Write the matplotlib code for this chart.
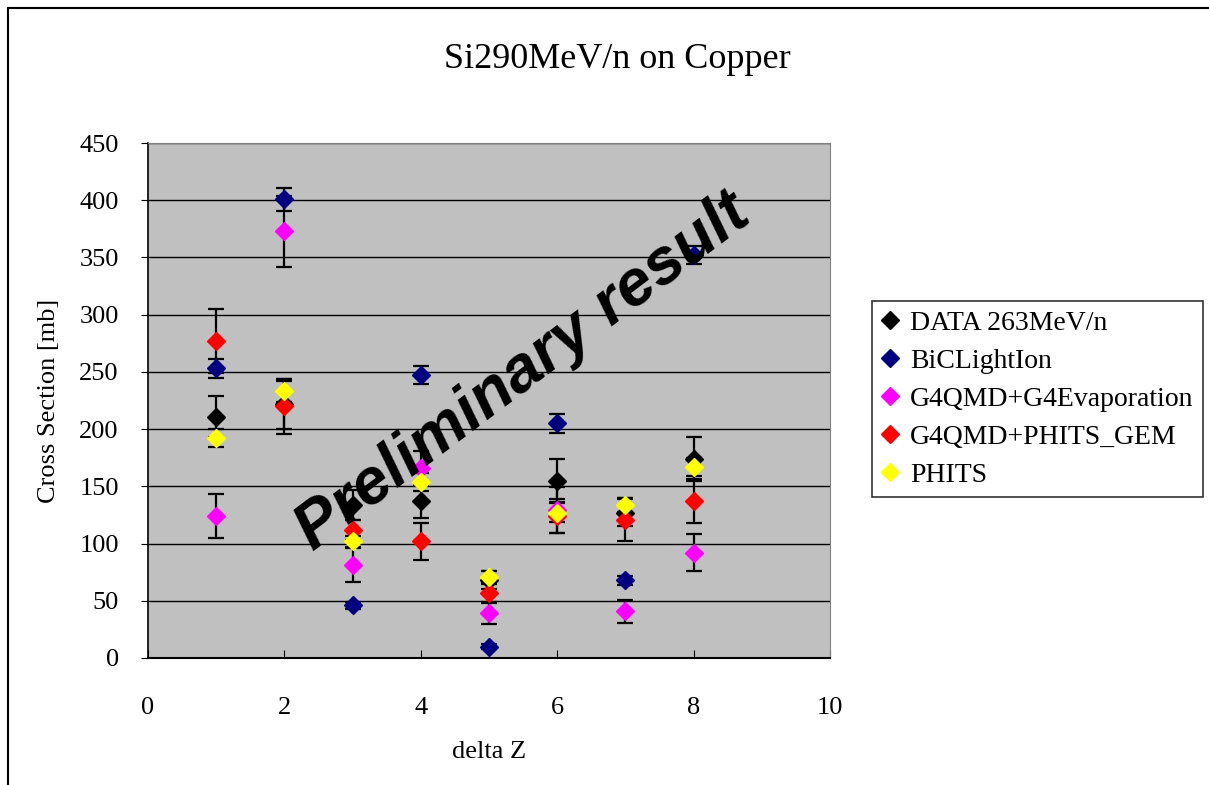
import matplotlib.pyplot as plt
from matplotlib.patches import Rectangle

# delta Z values and cross sections [mb]
delta_z = [1, 2, 3, 4, 5, 6, 7, 8]

data_263 = [211, 222, 134, 137, 68, 155, 127, 174]
data_263_err = [18, 22, 13, 15, 8, 19, 12, 19]

bic_light_ion = [253, 401, 46, 247, 10, 205, 68, 352]
bic_light_ion_err = [8, 10, 3, 8, 2, 8, 4, 8]

g4qmd_g4evap = [124, 373, 81, 166, 39, 129, 41, 92]
g4qmd_g4evap_err = [19, 31, 15, 15, 9, 20, 10, 16]

g4qmd_gem = [277, 220, 112, 102, 57, 124, 121, 137]
g4qmd_gem_err = [28, 24, 9, 16, 8, 15, 19, 19]

phits = [192, 233, 102, 154, 71, 127, 134, 167]
phits_err = [8, 9, 5, 8, 5, 8, 6, 8]

series = [
    ('DATA 263MeV/n', data_263, data_263_err, '#000000'),
    ('BiCLightIon', bic_light_ion, bic_light_ion_err, '#000080'),
    ('G4QMD+G4Evaporation', g4qmd_g4evap, g4qmd_g4evap_err, '#FF00FF'),
    ('G4QMD+PHITS_GEM', g4qmd_gem, g4qmd_gem_err, '#FF0000'),
    ('PHITS', phits, phits_err, '#FFFF00'),
]

plt.rcParams['font.family'] = ['Liberation Serif', 'DejaVu Serif']

fig = plt.figure(figsize=(12.09, 7.85), dpi=100)
ax = fig.add_axes([0.1224, 0.1618, 0.5641, 0.656])
ax.set_facecolor('#C0C0C0')

# outer chart frame
fig.patches.append(Rectangle((8 / 1209, -0.01), 1.02, 1 - 8 / 785 + 0.01,
                             transform=fig.transFigure, fill=False,
                             edgecolor='black', linewidth=1.5))

for label, vals, errs, color in series:
    ax.errorbar(delta_z, vals, yerr=errs, fmt='none', ecolor='black',
                elinewidth=1.6, capsize=6, capthick=1.6, zorder=3)
for label, vals, errs, color in series:
    ax.plot(delta_z, vals, linestyle='none', marker='D', markersize=9,
            color=color, markeredgecolor=color, label=label, zorder=4)

ax.set_xlim(0, 10)
ax.set_ylim(0, 450)
ax.set_xticks(range(0, 11, 2))
ax.set_yticks(range(0, 451, 50))
ax.yaxis.grid(True, color='black', linewidth=1)
ax.set_axisbelow(True)
ax.tick_params(axis='x', direction='in', length=6, labelsize=19, pad=28)
ax.tick_params(axis='y', direction='out', length=5, labelsize=19, pad=16)
for side in ['top', 'right']:
    ax.spines[side].set_color('#808080')
ax.spines['bottom'].set_linewidth(1.5)
ax.spines['left'].set_linewidth(1.2)

fig.text(617 / 1209, 1 - 60 / 785, 'Si290MeV/n on Copper', fontsize=26,
         ha='center', va='center')
ax.set_xlabel('delta Z', fontsize=19, labelpad=16)
ax.set_ylabel('Cross Section [mb]', fontsize=19, labelpad=14)

ax.text(0.55, 0.555, 'Preliminary result', transform=ax.transAxes,
        family='Liberation Sans', fontsize=47, fontweight='bold',
        fontstyle='italic', rotation=37, ha='center', va='center', zorder=5)

leg = ax.legend(loc='upper left', bbox_to_anchor=(1.062, 0.694),
                fontsize=20, frameon=True, fancybox=False, handlelength=0.6,
                handletextpad=0.4, borderpad=0.35, labelspacing=0.45,
                borderaxespad=0)
leg.get_frame().set_edgecolor('black')
leg.get_frame().set_linewidth(1.2)

fig.savefig('out.png', dpi=100)
